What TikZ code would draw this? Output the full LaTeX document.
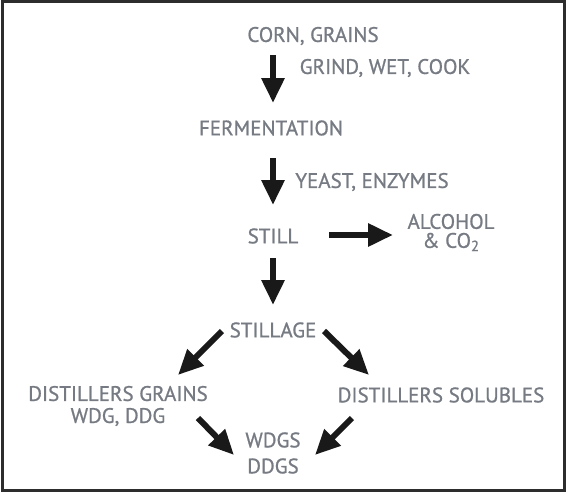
\documentclass[tikz,border=0pt]{standalone}
\usepackage{fontspec}
\setmainfont{PT Sans}
\newfontfamily\lblfont{PT Sans}[FakeBold=0.9]
\usetikzlibrary{arrows.meta,calc}
\definecolor{txtgray}{RGB}{118,122,130}
\definecolor{framegray}{RGB}{45,45,45}
\begin{document}
\begin{tikzpicture}[x=1pt,y=-1pt,
  lbl/.style={inner sep=0pt,outer sep=0pt,text=txtgray,align=center,
    font=\lblfont\fontsize{21}{21}\selectfont},
  arr/.style={line width=6pt,black!90,-{Triangle[length=25pt,width=22pt]}}]
\useasboundingbox (0,0) rectangle (566,496);
\draw[line width=3pt,framegray] (2.5,1.5) rectangle (564,490);
% nodes
\node[lbl] (corn) at (313,36) {CORN, GRAINS};
\node[lbl] (grind) at (385,68) {GRIND, WET, COOK};
\node[lbl] (ferm) at (271,128) {FERMENTATION};
\node[lbl] (yeast) at (372,182) {YEAST, ENZYMES};
\node[lbl] (still) at (273,236) {STILL};
\node[lbl,font=\lblfont\fontsize{21}{19}\selectfont] (alcohol) at (451,232.5) {ALCOHOL\\\& CO\textsubscript{2}};
\node[lbl] (stillage) at (273,330) {STILLAGE};
\node[lbl,font=\lblfont\fontsize{21}{22}\selectfont] (dg) at (118,406) {DISTILLERS GRAINS\\WDG, DDG};
\node[lbl] (ds) at (441,395) {DISTILLERS SOLUBLES};
\node[lbl,font=\lblfont\fontsize{21}{26}\selectfont] (wdgs) at (273,453) {WDGS\\DDGS};
% connectors
\draw[arr] ($(corn.center)+(-40,19)$) -- ($(ferm.center)+(2,-25)$);
\draw[arr] ($(ferm.center)+(2,30)$) -- ($(still.center)+(0,-31)$);
\draw[arr] ($(still.center)+(56,-1)$) -- ($(alcohol.center)+(-58,2.5)$);
\draw[arr] ($(still.center)+(0,22)$) -- ($(stillage.center)+(0,-25)$);
\draw[arr] ($(stillage.center)+(-51,1)$) -- ($(dg.center)+(60,-31)$);
\draw[arr] ($(stillage.center)+(51,1)$) -- ($(ds.center)+(-72,-20)$);
\draw[arr] ($(dg.center)+(80,12)$) -- ($(wdgs.center)+(-39,2)$);
\draw[arr] ($(ds.center)+(-89,23)$) -- ($(wdgs.center)+(42,2)$);
\end{tikzpicture}
\end{document}
